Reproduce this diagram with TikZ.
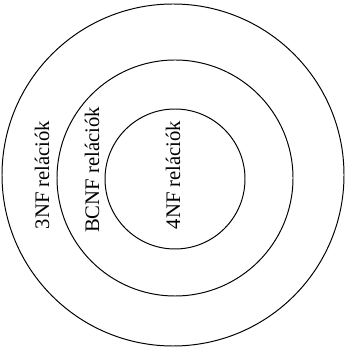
\documentclass[tikz,border=0pt]{standalone}
\usepackage{fontspec}
\setmainfont{Liberation Serif}
\usetikzlibrary{positioning}

\begin{document}
\begin{tikzpicture}[
        ring/.style={
            draw=black,
            line width=0.7pt
        },
        reltext/.style={
            rotate=90,
            inner sep=0pt,
            font=\fontsize{14.7}{18}\selectfont
        }
    ]
    \useasboundingbox (0,0) rectangle (8.625,8.75);

    \coordinate (outerc) at (4.325, 4.375);
    \coordinate (middlec) at (4.375, 4.3);
    \coordinate (innerc) at (4.375, 4.275);

    \draw[ring] (outerc) circle (4.275);
    \draw[ring] (middlec) circle (2.95);
    \draw[ring] (innerc) circle (1.75);

    % Labels
    \node[reltext] (thirdnf) at (1.05, 4.375) {3NF relációk};
    \node[reltext] (bcnf) at (2.3, 4.5) {BCNF relációk};
    \node[reltext] (fourthnf) at (4.325, 4.375) {4NF relációk};

\end{tikzpicture}
\end{document}
